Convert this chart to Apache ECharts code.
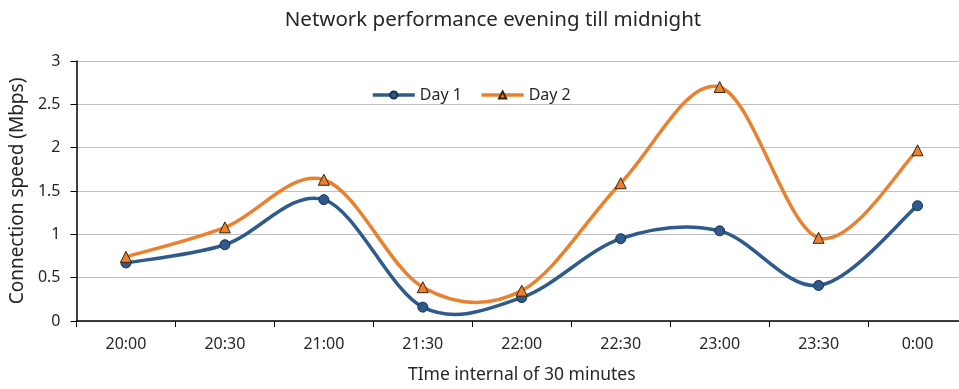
<!DOCTYPE html>
<html>
<head>
<meta charset="utf-8">
<script src="https://cdn.jsdelivr.net/npm/echarts@6/dist/echarts.min.js"></script>
<style>
  html, body { margin: 0; padding: 0; background: #fff; overflow: hidden; }
  /* the plot runs slightly past the right edge of the window */
  #chart { width: 967px; height: 389px; }
</style>
</head>
<body>
<div id="chart"></div>
<script>
// Half-hour slots from 20:00 to midnight
const times = ['20:00', '20:30', '21:00', '21:30', '22:00', '22:30', '23:00', '23:30', '0:00'];
// Measured connection speed (Mbps)
const day1 = [0.67, 0.88, 1.40, 0.16, 0.27, 0.95, 1.04, 0.41, 1.33];
const day2 = [0.74, 1.08, 1.63, 0.39, 0.35, 1.59, 2.70, 0.96, 1.97];
const yTicks = [0, 0.5, 1, 1.5, 2, 2.5, 3];

const BLUE = '#2F5A8C';
const ORANGE = '#E9812F';
const font = 'Noto Sans';
const textColor = '#262626';

// Smooth curve through the points: cubic Bezier segments with
// Catmull-Rom style tangents (1/6 of the neighbour-to-neighbour span).
function curveSeries(name, values, color, z) {
  const last = values.length - 1;
  return {
    name: name,
    type: 'custom',
    data: values.map((v, i) => [i, v]),
    encode: { x: 0, y: 1 },
    silent: true,
    z: z,
    renderItem: function (params, api) {
      const i = params.dataIndex;
      if (i === 0) return null;
      const pt = k => {
        const j = Math.max(0, Math.min(last, k));
        return api.coord([j, values[j]]);
      };
      const p0 = pt(i - 2), p1 = pt(i - 1), p2 = pt(i), p3 = pt(i + 1);
      return {
        type: 'bezierCurve',
        shape: {
          x1: p1[0], y1: p1[1],
          x2: p2[0], y2: p2[1],
          cpx1: p1[0] + (p2[0] - p0[0]) / 6,
          cpy1: p1[1] + (p2[1] - p0[1]) / 6,
          cpx2: p2[0] - (p3[0] - p1[0]) / 6,
          cpy2: p2[1] - (p3[1] - p1[1]) / 6
        },
        style: { stroke: color, lineWidth: 3.5, fill: null, lineCap: 'round' }
      };
    }
  };
}

// Point markers for each day (the curves are drawn by the custom series)
function markerSeries(name, values, color, symbol, border, z) {
  return {
    name: name,
    type: 'line',
    data: values,
    symbol: symbol,
    symbolSize: symbol === 'circle' ? 10 : 11,
    showSymbol: true,
    lineStyle: { color: color, width: 3.5, opacity: 0 },
    itemStyle: { color: color, borderColor: border, borderWidth: 1 },
    z: z
  };
}

const chart = echarts.init(document.getElementById('chart'));

chart.setOption({
  animation: false,
  backgroundColor: '#fff',
  title: {
    text: 'Network performance evening till midnight',
    left: 488,
    textAlign: 'center',
    top: 5,
    textStyle: { fontFamily: font, fontSize: 20.5, fontWeight: 'normal', color: textColor }
  },
  legend: {
    top: 82,
    left: 366,
    itemWidth: 42,
    itemHeight: 9,
    itemGap: 18,
    textStyle: { fontFamily: font, fontSize: 16, color: textColor },
    data: [
      { name: 'Day 1', lineStyle: { color: BLUE, width: 3.5, opacity: 1 } },
      { name: 'Day 2', lineStyle: { color: ORANGE, width: 3.5, opacity: 1 } }
    ]
  },
  grid: { left: 76, right: 0, top: 61, bottom: 65 },
  xAxis: {
    type: 'category',
    data: times,
    boundaryGap: true,
    name: 'TIme internal of 30 minutes',
    nameLocation: 'middle',
    nameGap: 45,
    nameTextStyle: { fontFamily: font, fontSize: 17.5, color: textColor },
    axisLine: { lineStyle: { color: '#000', width: 1.5 } },
    axisTick: { show: true, length: 6, lineStyle: { color: '#000' } },
    axisLabel: { fontFamily: font, fontSize: 16, color: textColor, margin: 15 },
    splitLine: { show: false }
  },
  yAxis: {
    type: 'value',
    min: yTicks[0],
    max: yTicks[yTicks.length - 1],
    interval: yTicks[1] - yTicks[0],
    name: 'Connection speed (Mbps)',
    nameLocation: 'middle',
    nameGap: 46,
    nameTextStyle: { fontFamily: font, fontSize: 19, color: textColor },
    axisLine: { show: true, lineStyle: { color: '#000', width: 1.5 } },
    axisTick: { show: true, length: 6, lineStyle: { color: '#000' } },
    axisLabel: { fontFamily: font, fontSize: 16, color: textColor, margin: 16 },
    splitLine: { lineStyle: { color: '#c0c0c0', width: 1.2 } }
  },
  series: [
    curveSeries('Day 1 curve', day1, BLUE, 2),
    curveSeries('Day 2 curve', day2, ORANGE, 3),
    markerSeries('Day 1', day1, BLUE, 'circle', '#1b3050', 4),
    markerSeries('Day 2', day2, ORANGE, 'triangle', '#3a230e', 5)
  ]
});
</script>
</body>
</html>
